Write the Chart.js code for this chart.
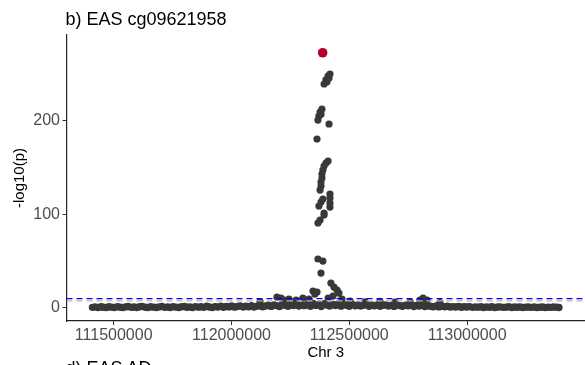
<!DOCTYPE html>
<html>
<head>
<meta charset="utf-8">
<script src="https://cdn.jsdelivr.net/npm/chart.js@4"></script>
<style>
  html, body { margin: 0; padding: 0; background: #fff; overflow: hidden; }
  #wrap { position: relative; width: 585px; height: 365px; overflow: hidden; }
  #chart { position: absolute; left: 0; top: 0; display: block; }
  .panel-title {
    position: absolute; left: 65.5px; white-space: nowrap;
    font-family: "Liberation Sans", Arial, sans-serif; font-size: 18px; line-height: 1; color: #000;
  }
</style>
</head>
<body>
<div id="wrap">
  <canvas id="chart" width="585" height="365"></canvas>
  <div class="panel-title" style="top:9.6px">b) EAS cg09621958</div>
  <div class="panel-title" style="top:358.5px">d) EAS AD</div>
</div>
<script>
// positions in kb on chr 3, values are -log10(p)
const basePosKb = [
  111410, 111421, 111433, 111446, 111455, 111468, 111480, 111491, 111503, 111516,
  111527, 111539, 111550, 111562, 111575, 111586, 111598, 111610, 111621, 111634,
  111645, 111657, 111670, 111681, 111693, 111705, 111716, 111729, 111740, 111752,
  111765, 111776, 111788, 111800, 111811, 111824, 111835, 111847, 111860, 111871,
  111883, 111895, 111906, 111919, 111930, 111942, 111955, 111966, 111978, 111990,
  112001, 112014, 112025, 112037, 112050, 112061, 112073, 112085, 112096, 112109,
  112120, 112132, 112145, 112156, 112168, 112180, 112191, 112204, 112215, 112227,
  112240, 112251, 112263, 112275, 112286, 112299, 112310, 112322, 112335, 112346,
  112358, 112370, 112381, 112394, 112405, 112417, 112430, 112441, 112453, 112465,
  112476, 112489, 112500, 112512, 112525, 112536, 112548, 112560, 112571, 112584,
  112595, 112607, 112620, 112631, 112643, 112655, 112666, 112679, 112690, 112702,
  112715, 112726, 112738, 112750, 112761, 112774, 112785, 112797, 112810, 112821,
  112833, 112845, 112856, 112869, 112880, 112892, 112905, 112916, 112928, 112940,
  112951, 112964, 112975, 112987, 113000, 113011, 113023, 113035, 113046, 113059,
  113070, 113082, 113095, 113106, 113118, 113130, 113141, 113154, 113165, 113177,
  113190, 113201, 113213, 113225, 113236, 113249, 113260, 113272, 113285, 113296,
  113308, 113320, 113331, 113344, 113355, 113367, 113380, 113390
];
const baseLogP = [
  0.4, 0.9, 0.2, 1.1, 0.5, 0.3, 1.0, 0.6, 0.2, 1.2,
  0.5, 0.3, 0.9, 1.3, 0.4, 0.7, 0.2, 1.0, 1.4, 0.5,
  0.3, 1.1, 0.6, 0.2, 0.9, 1.4, 0.4, 0.7, 0.3, 1.2,
  0.6, 0.2, 1.0, 1.3, 0.5, 0.8, 0.3, 1.2, 0.6, 1.1,
  0.4, 1.5, 0.7, 0.3, 1.2, 0.8, 1.6, 0.5, 1.3, 0.9,
  1.8, 0.6, 1.4, 2.0, 0.8, 1.5, 1.1, 2.2, 0.7, 1.7,
  2.4, 1.0, 1.9, 2.8, 1.4, 3.0, 2.2, 1.2, 3.5, 2.6,
  1.5, 3.2, 2.4, 4.0, 1.8, 3.0, 2.2, 3.8, 1.6, 4.5,
  2.5, 3.4, 1.2, 4.2, 2.8, 1.9, 3.6, 2.3, 4.0, 1.7,
  3.2, 2.6, 1.5, 3.8, 2.1, 3.0, 1.8, 2.7, 3.4, 1.6,
  2.9, 2.0, 3.3, 1.5, 2.6, 3.1, 1.9, 2.5, 1.4, 3.0,
  2.2, 1.6, 2.8, 2.0, 3.4, 1.3, 2.4, 1.8, 2.6, 1.2,
  2.0, 1.5, 1.1, 1.8, 0.9, 1.4, 1.0, 1.6, 0.7, 1.2,
  0.8, 1.3, 0.5, 1.0, 0.7, 1.2, 0.4, 0.9, 0.6, 1.1,
  0.3, 0.8, 0.5, 1.0, 0.2, 0.7, 0.9, 0.4, 0.6, 1.0,
  0.3, 0.7, 0.5, 0.9, 0.2, 0.6, 0.8, 0.4, 0.7, 0.3,
  0.5, 0.8, 0.3, 0.6, 0.4, 0.7, 0.5, 0.3
];

// the associated CpGs around the peak
const hitPosKb = [
  112193, 112210, 112223, 112244, 112274, 112303, 112329,
  112346, 112363, 112354, 112410, 112431, 112469,
  112422, 112435, 112448, 112456, 112380, 112367, 112388,
  112393, 112393, 112376, 112367,
  112418, 112418, 112418, 112418, 112371, 112380, 112388,
  112410, 112401, 112393, 112388, 112384, 112384, 112380, 112380, 112376,
  112363, 112414,
  112367, 112371, 112376, 112384, 112380,
  112393, 112401, 112410, 112418, 112405, 112414,
  112121, 112503, 112567, 112630, 112694, 112758, 112800, 112813, 112830, 112885
];
const hitLogP = [
  11.4, 10.4, 8.2, 9.3, 8.2, 10.4, 9.3,
  17.9, 16.8, 14.6, 10.4, 12.5, 9.3,
  26.4, 22.1, 18.9, 15.7, 37.1, 52.1, 49.9,
  101.3, 99.1, 93.8, 90.6,
  121.6, 117.3, 111.9, 107.7, 108.8, 113.0, 116.3,
  156.9, 154.7, 151.6, 147.3, 143.0, 138.7, 134.4, 130.1, 125.8,
  180.4, 196.5,
  200.7, 205.0, 209.3, 212.5, 207.0,
  239.3, 243.6, 247.8, 250.0, 241.4, 245.7,
  6.5, 7.0, 6.2, 6.8, 5.9, 6.4, 8.2, 10.4, 8.2, 5.5
];

// lead CpG
const leadPosKb = [112387];
const leadLogP = [272.7];

// significance lines: blue, grey
const thresholds = [9.7, 7.3];

const xTicks = [111500000, 112000000, 112500000, 113000000];
const yTicks = [0, 100, 200];
const xMin = 111299700, xMax = 113500500;

const toPoints = (pos, vals) => pos.map((p, i) => ({ x: p * 1000, y: vals[i] }));
const hline = (v) => [{ x: xMin, y: v }, { x: xMax, y: v }];

const FONT = '"Liberation Sans", Arial, sans-serif';

new Chart(document.getElementById('chart'), {
    type: 'scatter',
    data: {
        datasets: [
            {
                data: hline(thresholds[0]), showLine: true, pointRadius: 0, pointHoverRadius: 0,
                borderColor: '#0000FF', borderWidth: 1.3, borderDash: [6, 4], order: 0
            },
            {
                data: hline(thresholds[1]), showLine: true, pointRadius: 0, pointHoverRadius: 0,
                borderColor: '#B8B8B8', borderWidth: 1.3, borderDash: [6, 4], order: 1
            },
            {
                data: toPoints(leadPosKb, leadLogP), pointRadius: 4.8,
                backgroundColor: '#B5002F', borderWidth: 0, order: 2
            },
            {
                data: toPoints(hitPosKb, hitLogP), pointRadius: 3.6,
                backgroundColor: '#383838', borderWidth: 0, order: 3
            },
            {
                data: toPoints(basePosKb, baseLogP), pointRadius: 3.7,
                backgroundColor: '#383838', borderWidth: 0, order: 4
            }
        ]
    },
    options: {
        responsive: false,
        animation: false,
        events: [],
        layout: { autoPadding: false, padding: { top: 35, left: 0, right: 0, bottom: 0 } },
        plugins: { legend: { display: false }, tooltip: { enabled: false } },
        scales: {
            x: {
                type: 'linear',
                min: xMin,
                max: xMax,
                afterBuildTicks: (scale) => { scale.ticks = xTicks.map(v => ({ value: v })); },
                afterFit: (scale) => {
                    scale.height = 44;
                    scale.paddingLeft = 0;
                    scale.paddingRight = 0;
                },
                grid: { drawOnChartArea: false, drawTicks: true, tickLength: 4, tickColor: '#333', tickWidth: 1 },
                border: { display: true, color: '#222', width: 1.2 },
                ticks: {
                    color: '#4D4D4D', padding: 1, maxRotation: 0, autoSkip: false,
                    font: { family: FONT, size: 16 },
                    callback: (v) => String(v)
                },
                title: {
                    display: true, text: 'Chr 3', color: '#000',
                    font: { family: FONT, size: 15 }, padding: { top: 0, bottom: 3 }
                }
            },
            y: {
                min: -14.2,
                max: 291.7,
                afterBuildTicks: (scale) => { scale.ticks = yTicks.map(v => ({ value: v })); },
                afterFit: (scale) => {
                    scale.width = 66.5;
                    scale.paddingTop = 0;
                    scale.paddingBottom = 0;
                },
                grid: { drawOnChartArea: false, drawTicks: true, tickLength: 4, tickColor: '#333', tickWidth: 1 },
                border: { display: true, color: '#222', width: 1.2 },
                ticks: {
                    color: '#4D4D4D', padding: 2.5,
                    font: { family: FONT, size: 16 },
                    callback: (v) => String(v)
                },
                title: {
                    display: true, text: '-log10(p)', color: '#000',
                    font: { family: FONT, size: 15 }, padding: { top: 11, bottom: 0 }
                }
            }
        }
    }
});
</script>
</body>
</html>
